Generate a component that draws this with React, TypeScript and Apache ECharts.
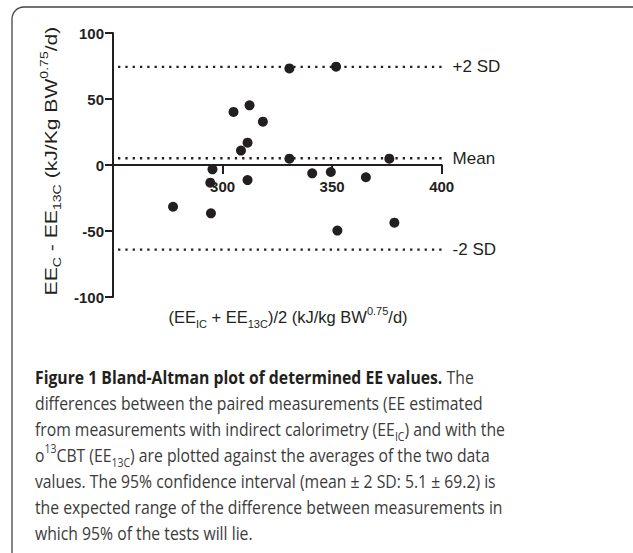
import React, { useEffect, useRef } from "react";
import * as echarts from "echarts";

// Bland-Altman data: average of the two methods (x) and difference (y)
const avgValues = [277.4, 294.7, 294.4, 295.4, 305.0, 308.4, 311.4, 312.3, 311.4, 318.4, 330.5, 330.5, 340.9, 349.4, 351.8, 352.4, 365.4, 376.1, 378.4];
const diffValues = [-31.6, -36.6, -13.4, -3.3, 40.2, 10.9, 16.9, 45.2, -11.4, 32.8, 73.2, 4.8, -6.3, -5.3, 74.5, -49.7, -9.3, 4.8, -43.7];
const meanDiff = 5.1;
const twoSD = 69.2;
const refLineNames = ["+2 SD", "Mean", "-2 SD"];
const refLineStart = 252.3;
const refLineEnd = 400.4;
const xRange = { min: 250, max: 400, interval: 50 };
const yRange = { min: -100, max: 100, interval: 50 };

const captionLines = [
  "{b|Figure 1 Bland-Altman plot of determined EE values.}{n| The}",
  "{n|differences between the paired measurements (EE estimated}",
  "{n|from measurements with indirect calorimetry (EE}{s|IC}{n|) and with the}",
  "{n|o}{p|13}{n|CBT (EE}{s|13C}{n|) are plotted against the averages of the two data}",
  "{n|values. The 95% confidence interval (mean ± 2 SD: 5.1 ± 69.2) is}",
  "{n|the expected range of the difference between measurements in}",
  "{n|which 95% of the tests will lie.}",
];

const INK = "#231f20";
const SANS = "Liberation Sans, Arial, sans-serif";

export default function App() {
  const ref = useRef<HTMLDivElement>(null);
  useEffect(() => {
    const chart = echarts.init(ref.current!, null, { renderer: "svg" });
    const points = avgValues.map((x, i) => [x, diffValues[i]]);
    const refValues = [meanDiff + twoSD, meanDiff, meanDiff - twoSD];

    const titleRich = {
      n: { fontSize: 16.5, fontFamily: SANS, fill: INK, lineHeight: 24 },
      s: { fontSize: 11, fontFamily: SANS, fill: INK, verticalAlign: "bottom", lineHeight: 24 },
      p: { fontSize: 11, fontFamily: SANS, fill: INK, verticalAlign: "top", lineHeight: 24 },
    };
    const capRich = {
      n: { fontSize: 18, fontFamily: "Open Sans, sans-serif", fill: "#3b3b3b", lineHeight: 26 },
      b: { fontSize: 18, fontFamily: "Open Sans, sans-serif", fontWeight: "bold", fill: INK, lineHeight: 26 },
      s: { fontSize: 12, fontFamily: "Open Sans, sans-serif", fill: "#3b3b3b", verticalAlign: "bottom", lineHeight: 24 },
      p: { fontSize: 12, fontFamily: "Open Sans, sans-serif", fill: "#3b3b3b", verticalAlign: "top", lineHeight: 24 },
    };

    const graphics: any[] = [
      {
        type: "rect",
        shape: { x: 12, y: 7, width: 700, height: 700, r: 12 },
        style: { fill: "none", stroke: "#444", lineWidth: 1.3 },
        silent: true,
      },
      {
        type: "text",
        x: 51,
        y: 161,
        rotation: Math.PI / 2,
        scaleX: 1.28,
        style: {
          text: "{n|EE}{s|C}{n| - EE}{s|13C}{n| (kJ/Kg BW}{p|0.75}{n|/d)}",
          rich: titleRich,
          align: "center",
          verticalAlign: "middle",
          fill: INK,
        },
      },
      {
        type: "text",
        x: 288,
        y: 317,
        style: {
          text: "{n|(EE}{s|IC}{n| + EE}{s|13C}{n|)/2 (kJ/kg BW}{p|0.75}{n|/d)}",
          rich: titleRich,
          align: "center",
          verticalAlign: "middle",
          fill: INK,
        },
      },
      ...captionLines.map((line, i) => ({
        type: "text",
        x: 35,
        y: 377 + i * 26,
        scaleX: 0.875,
        style: { text: line, rich: capRich, align: "left", verticalAlign: "middle" },
      })),
    ];

    const axisLabelFont = { fontFamily: SANS, fontWeight: "bold", fontSize: 15, color: INK };

    chart.setOption({
      animation: false,
      grid: [
        { left: 113, right: 191.3, top: 33, bottom: 256 },
        // upper half of the plot: its bottom edge is the zero line, where the x axis sits
        { left: 113, right: 191.3, top: 33, bottom: 388 },
      ],
      xAxis: [
        { type: "value", gridIndex: 0, min: xRange.min, max: xRange.max, interval: xRange.interval, show: false },
        {
          type: "value",
          gridIndex: 1,
          min: xRange.min,
          max: xRange.max,
          interval: xRange.interval,
          axisLine: { show: true, lineStyle: { color: INK, width: 2 } },
          axisTick: { show: true, length: 9, lineStyle: { color: INK, width: 2 } },
          axisLabel: { ...axisLabelFont, margin: 14, showMinLabel: false },
          splitLine: { show: false },
        },
      ],
      yAxis: [
        {
          type: "value",
          gridIndex: 0,
          min: yRange.min,
          max: yRange.max,
          interval: yRange.interval,
          axisLine: { show: true, lineStyle: { color: INK, width: 2 } },
          axisTick: { show: true, length: 8, lineStyle: { color: INK, width: 2 } },
          axisLabel: { ...axisLabelFont, margin: 9 },
          splitLine: { show: false },
        },
        { type: "value", gridIndex: 1, min: 0, max: 1, show: false },
      ],
      series: [
        ...refValues.map((v, i) => ({
          type: "line",
          name: refLineNames[i],
          xAxisIndex: 0,
          yAxisIndex: 0,
          data: [[refLineStart, v], [refLineEnd, v]],
          showSymbol: false,
          symbol: "none",
          silent: true,
          z: 2,
          lineStyle: { color: INK, width: 2.3, type: [2.3, 5] },
          endLabel: {
            show: true,
            formatter: refLineNames[i],
            distance: 10,
            fontFamily: SANS,
            fontSize: 17,
            color: INK,
          },
        })),
        {
          type: "scatter",
          xAxisIndex: 0,
          yAxisIndex: 0,
          data: points,
          symbol: "circle",
          symbolSize: 10,
          itemStyle: { color: INK, opacity: 1 },
          z: 5,
        },
      ],
      graphic: graphics,
    });
    return () => chart.dispose();
  }, []);
  return <div ref={ref} style={{ position: "fixed", left: 0, top: 0, width: 633, height: 553, background: "#fff" }} />;
}
